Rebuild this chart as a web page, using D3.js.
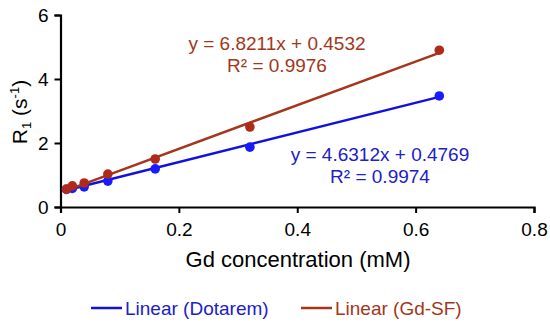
<!DOCTYPE html>
<html>
<head>
<meta charset="utf-8">
<script src="https://cdn.jsdelivr.net/npm/d3@7"></script>
<style>
  body { margin: 0; background: #fff; }
  svg { font-family: "Liberation Sans", Arial, sans-serif; }
</style>
</head>
<body>
<div id="main-div"></div>
<script>
// Gd concentration vs R1 relaxation rate

let conc = [0.01, 0.02, 0.04, 0.08, 0.16, 0.32, 0.64]
let dotarem = [0.55, 0.58, 0.63, 0.81, 1.19, 1.87, 3.47]
let gdsf = [0.56, 0.66, 0.75, 1.03, 1.50, 2.50, 4.90]

// fitted trendlines shown on the chart: slope, intercept
let fitDotarem = [4.6312, 0.4769]
let fitGdsf = [6.8211, 0.4532]

let xTicks = [0, 0.2, 0.4, 0.6, 0.8]
let yTicks = [0, 2, 4, 6]

let width = 550
let height = 323

let blue = "#1010e0"
let brown = "#a3361b"

var svg = d3.select("#main-div")
  .append("svg")
  .attr("width", width)
  .attr("height", height)

let x = d3.scaleLinear().domain([0, 0.8]).range([60.5, 534])
let y = d3.scaleLinear().domain([0, 6]).range([207, 15])

// axes
svg.append("g")
  .attr("transform", `translate(0,${y(0)})`)
  .call(d3.axisBottom(x).tickValues(xTicks).tickSizeOuter(0).tickSize(6).tickPadding(10)
    .tickFormat(d => d === 0 ? "0" : d3.format(".1f")(d)))

svg.append("g")
  .attr("transform", `translate(${x(0)},0)`)
  .call(d3.axisLeft(y).tickValues(yTicks).tickSizeOuter(0).tickSize(6).tickPadding(6)
    .tickFormat(d3.format("d")))

svg.selectAll(".domain").attr("stroke", "#000").attr("stroke-width", 2.2)
svg.selectAll(".tick line").attr("stroke", "#000").attr("stroke-width", 2)
svg.selectAll(".tick text").attr("font-size", 19).attr("fill", "#000")
  .attr("font-family", "Liberation Sans, Arial, sans-serif")

// axis titles
svg.append("text")
  .attr("x", 298)
  .attr("y", 267)
  .attr("text-anchor", "middle")
  .attr("font-size", 22)
  .text("Gd concentration (mM)")

let ylab = svg.append("text")
  .attr("transform", "translate(27,112) rotate(-90)")
  .attr("text-anchor", "middle")
  .attr("font-size", 21)
ylab.append("tspan").text("R")
ylab.append("tspan").attr("font-size", 13).attr("dy", 4).text("1")
ylab.append("tspan").attr("dy", -4).text(" (s")
ylab.append("tspan").attr("font-size", 13).attr("dy", -8).text("-1")
ylab.append("tspan").attr("dy", 8).text(")")

// series
let series = [
  {name: "Dotarem", values: dotarem, fit: fitDotarem, color: blue},
  {name: "Gd-SF", values: gdsf, fit: fitGdsf, color: brown}
]

let line = d3.line()
  .x(d => x(d[0]))
  .y(d => y(d[1]))

series.forEach(s => {
  let x0 = d3.min(conc), x1 = d3.max(conc)
  svg.append("path")
    .datum([[x0, s.fit[0] * x0 + s.fit[1]], [x1, s.fit[0] * x1 + s.fit[1]]])
    .attr("fill", "none")
    .attr("stroke", s.color)
    .attr("stroke-width", 2.5)
    .attr("d", line)

  svg.append("g")
    .selectAll("circle")
    .data(conc.map((c, i) => [c, s.values[i]]))
    .join("circle")
    .attr("cx", d => x(d[0]))
    .attr("cy", d => y(d[1]))
    .attr("r", 4.8)
    .attr("fill", s.name === "Gd-SF" ? "#b02a1c" : "#1a1aff")
})

// equation labels
let fmt4 = d3.format(".4f")
let eqs = [
  {fit: fitGdsf, r2: "0.9976", color: brown, cx: 277, y1: 50, y2: 72},
  {fit: fitDotarem, r2: "0.9974", color: "#2020c8", cx: 380, y1: 161, y2: 183}
]
eqs.forEach(e => {
  svg.append("text")
    .attr("x", e.cx).attr("y", e.y1)
    .attr("text-anchor", "middle")
    .attr("font-size", 19)
    .attr("fill", e.color)
    .text(`y = ${fmt4(e.fit[0])}x + ${fmt4(e.fit[1])}`)
  svg.append("text")
    .attr("x", e.cx).attr("y", e.y2)
    .attr("text-anchor", "middle")
    .attr("font-size", 19)
    .attr("fill", e.color)
    .text(`R² = ${e.r2}`)
})

// legend
let legend = [
  {label: "Linear (Dotarem)", color: blue, tx: "#2020c8", x: 91},
  {label: "Linear (Gd-SF)", color: brown, tx: "#a3361b", x: 301}
]
legend.forEach(l => {
  svg.append("line")
    .attr("x1", l.x).attr("x2", l.x + 31)
    .attr("y1", 308).attr("y2", 308)
    .attr("stroke", l.color)
    .attr("stroke-width", 2.5)
  svg.append("text")
    .attr("x", l.x + 34).attr("y", 315)
    .attr("font-size", 19)
    .attr("fill", l.tx)
    .text(l.label)
})
</script>
</body>
</html>
